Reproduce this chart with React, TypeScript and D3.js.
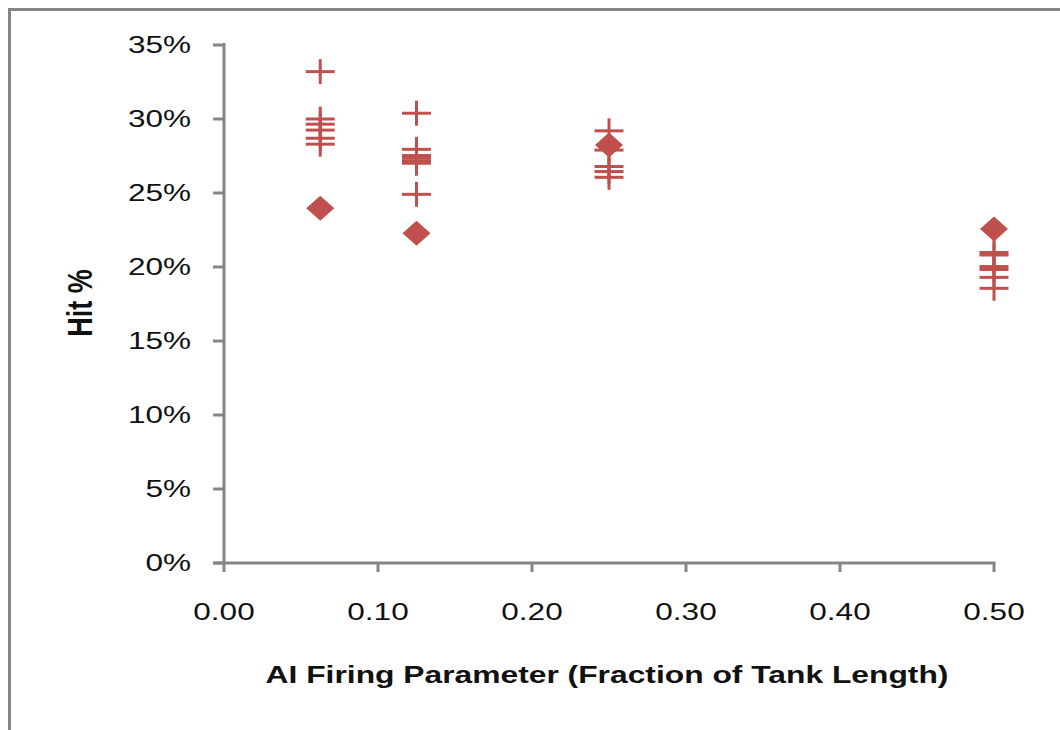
import React from "react";
import * as d3 from "d3";

const xTicks = [0, 0.1, 0.2, 0.3, 0.4, 0.5];
const yTicks = [0, 0.05, 0.1, 0.15, 0.2, 0.25, 0.3, 0.35];

// plus-marker series (x, hit fraction)
const plusX = [
  0.0625, 0.0625, 0.0625, 0.0625, 0.0625, 0.0625,
  0.125, 0.125, 0.125, 0.125, 0.125, 0.125, 0.125,
  0.25, 0.25, 0.25, 0.25, 0.25,
  0.5, 0.5, 0.5, 0.5, 0.5, 0.5,
];
const plusY = [
  0.332, 0.300, 0.2965, 0.2925, 0.287, 0.283,
  0.3039, 0.2795, 0.2753, 0.2736, 0.2718, 0.2701, 0.2491,
  0.292, 0.279, 0.2679, 0.2645, 0.2606,
  0.2098, 0.2081, 0.2003, 0.1983, 0.193, 0.1856,
];

// diamond-marker series
const diaX = [0.0625, 0.125, 0.25, 0.5];
const diaY = [0.2397, 0.2228, 0.2824, 0.2257];

const RED = "#C0504D";
const GRAY = "#868686";
const FONT = "'Liberation Sans', Arial, sans-serif";

export default function App() {
  const x = d3.scaleLinear().domain([0, 0.5]).range([224, 994]);
  const y = d3.scaleLinear().domain([0, 0.35]).range([563, 45]);
  const fmtX = d3.format(".2f");
  const fmtY = d3.format(".0%");
  const sx = 1.37;

  return (
    <svg
      width={1060}
      height={730}
      style={{ position: "absolute", left: 0, top: 0, background: "#fff" }}
    >
      <rect x={0} y={0} width={1060} height={730} fill="#fff" />
      {/* outer frame */}
      <rect x={9.5} y={9.5} width={1200} height={900} fill="none" stroke={GRAY} strokeWidth={3} />

      {/* y axis */}
      <line x1={x(0)} x2={x(0)} y1={y(0.35) - 2} y2={y(0)} stroke={GRAY} strokeWidth={3} />
      {yTicks.map((t) => (
        <g key={"yt" + t}>
          <line x1={x(0) - 11} x2={x(0)} y1={y(t)} y2={y(t)} stroke={GRAY} strokeWidth={3} />
          <text
            transform={`translate(191,${y(t)}) scale(${sx},1)`}
            textAnchor="end"
            dominantBaseline="central"
            fontFamily={FONT}
            fontSize={23}
            fill="#111"
          >
            {fmtY(t)}
          </text>
        </g>
      ))}

      {/* x axis */}
      <line x1={x(0) - 11} x2={x(0.5) + 1.5} y1={y(0)} y2={y(0)} stroke={GRAY} strokeWidth={3} />
      {xTicks.map((t) => (
        <g key={"xt" + t}>
          <line x1={x(t)} x2={x(t)} y1={y(0)} y2={y(0) + 9} stroke={GRAY} strokeWidth={3} />
          <text
            transform={`translate(${x(t)},620) scale(${sx},1)`}
            textAnchor="middle"
            fontFamily={FONT}
            fontSize={23}
            fill="#111"
          >
            {fmtX(t)}
          </text>
        </g>
      ))}

      {/* axis titles */}
      <text
        transform={`translate(607,683) scale(1.325,1)`}
        textAnchor="middle"
        fontFamily={FONT}
        fontSize={24}
        fontWeight="bold"
        fill="#111"
      >
        AI Firing Parameter (Fraction of Tank Length)
      </text>
      <text
        transform={`translate(80,303) rotate(-90) scale(1,1.3)`}
        textAnchor="middle"
        dominantBaseline="central"
        fontFamily={FONT}
        fontSize={27}
        fontWeight="bold"
        fill="#111"
      >
        Hit %
      </text>

      {/* plus markers */}
      {plusX.map((v, i) => {
        const cx = x(v);
        const cy = y(plusY[i]);
        return (
          <g key={"p" + i} stroke={RED} strokeWidth={3}>
            <line x1={cx - 14.5} x2={cx + 14.5} y1={cy} y2={cy} />
            <line x1={cx} x2={cx} y1={cy - 12.5} y2={cy + 12.5} />
          </g>
        );
      })}

      {/* diamond markers */}
      {diaX.map((v, i) => {
        const cx = x(v);
        const cy = y(diaY[i]);
        const p = `M${cx},${cy - 12.5} L${cx + 14},${cy} L${cx},${cy + 12.5} L${cx - 14},${cy} Z`;
        return <path key={"d" + i} d={p} fill={RED} />;
      })}
    </svg>
  );
}
